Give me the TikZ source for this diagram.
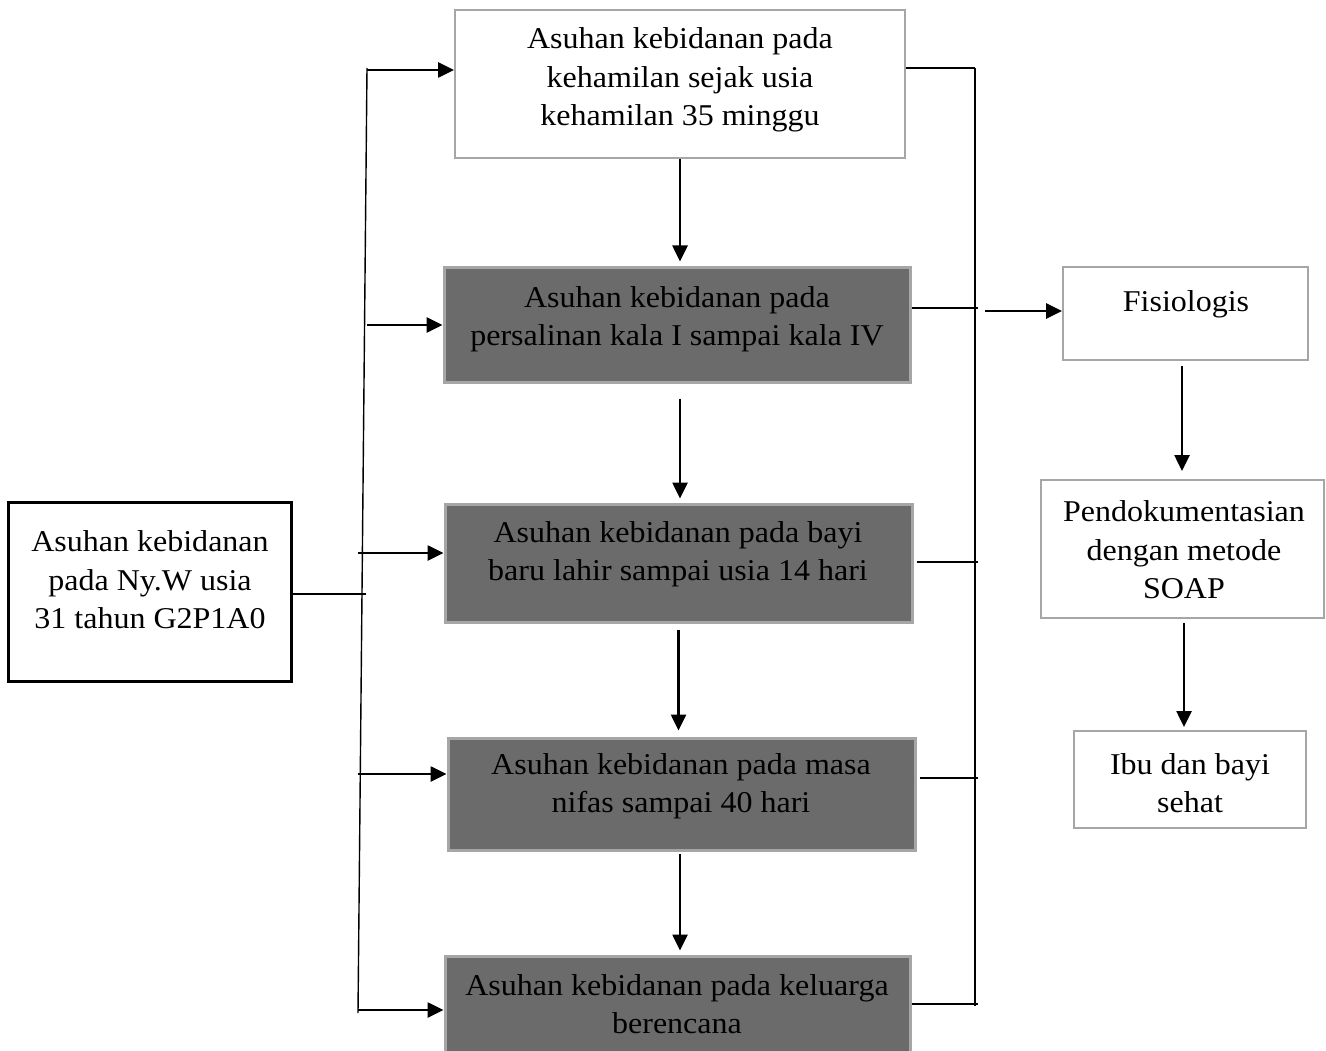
\documentclass[tikz,border=0pt]{standalone}
\usepackage{fontspec}
\setmainfont[FakeStretch=1.06]{Liberation Serif}
\usetikzlibrary{arrows.meta,calc}
\definecolor{boxgray}{HTML}{A6A6A6}
\definecolor{darkfill}{HTML}{6B6B6B}
\begin{document}
\begin{tikzpicture}[x=1pt,y=-1pt,
  wbox/.style={draw=boxgray, line width=2pt, fill=white, rectangle, inner sep=0pt},
  dbox/.style={draw=boxgray, line width=3pt, fill=darkfill, rectangle, inner sep=0pt},
  lbox/.style={draw=black, line width=3pt, fill=white, rectangle, inner sep=0pt},
  txt/.style={align=center, font=\fontsize{30.2}{38.5}\selectfont, inner sep=0pt},
  ln/.style={line width=1.4pt},
  arr/.style={line width=2.6pt, -{Triangle[length=16pt,width=15pt]}}]
\clip (0,0) rectangle (1326,1051);
\fill[white] (0,0) rectangle (1326,1051);
% boxes
\node[wbox, minimum width=450pt, minimum height=148pt] (b1) at (680,84) {};
\node[dbox, minimum width=466pt, minimum height=114pt] (b2) at (677,325) {};
\node[dbox, minimum width=467pt, minimum height=118pt] (b3) at (678.5,563) {};
\node[dbox, minimum width=467pt, minimum height=112pt] (b4) at (681.5,794) {};
\node[dbox, minimum width=465pt, minimum height=114pt] (b5) at (677.5,1013) {};
\node[lbox, minimum width=283pt, minimum height=179pt] (L) at (149.5,591.5) {};
\node[wbox, minimum width=245pt, minimum height=93pt] (F) at (1185.5,313.5) {};
\node[wbox, minimum width=283pt, minimum height=138pt] (P) at (1182.5,549) {};
\node[wbox, minimum width=232pt, minimum height=97pt] (I) at (1190,779.5) {};
% texts
\node[txt] (t1) at (680,80) {Asuhan kebidanan pada\\kehamilan sejak usia\\kehamilan 35 minggu};
\node[txt] (t2) at (677,319) {Asuhan kebidanan pada\\persalinan kala I sampai kala IV};
\node[txt] (t3) at (678,554) {Asuhan kebidanan pada bayi\\baru lahir sampai usia 14 hari};
\node[txt] (t4) at (681,786) {Asuhan kebidanan pada masa\\nifas sampai 40 hari};
\node[txt] (t5) at (677,1004) {Asuhan kebidanan pada keluarga\\berencana};
\node[txt] (tL) at (150,580) {Asuhan kebidanan\\pada Ny.W usia\\31 tahun G2P1A0};
\node[txt] (tF) at (1186,304) {Fisiologis};
\node[txt] (tP) at (1184,550) {Pendokumentasian\\dengan metode\\SOAP};
\node[txt] (tI) at (1190,783) {Ibu dan bayi\\sehat};
% left bus
\coordinate (a1) at (367,70);
\coordinate (a2) at (367,325);
\coordinate (a3) at (358,553);
\coordinate (a4) at (358,774);
\coordinate (a5) at (358,1010);
\coordinate (jL) at (366,594);
\draw[ln] (367,68) coordinate (lt) -- (358,1013) coordinate (lb);
\draw[ln] (L.east |- jL) -- (jL);
\draw[arr] (a1) -- (b1.west |- a1);
\draw[arr] (a2) -- (b2.west |- a2);
\draw[arr] (a3) -- (b3.west |- a3);
\draw[arr] (a4) -- (b4.west |- a4);
\draw[arr] (a5) -- (b5.west |- a5);
% right bus
\coordinate (r1) at (975,68);
\coordinate (r2) at (978,308);
\coordinate (r3) at (978,562);
\coordinate (r4) at (978,778);
\coordinate (r5) at (978,1004);
\draw[ln] (r1) -- (975,1006);
\draw[ln] (b1.east |- r1) -- (r1);
\draw[ln] (b2.east |- r2) -- (r2);
\draw[ln, shorten <=3pt] (b3.east |- r3) -- (r3);
\draw[ln, shorten <=3pt] (b4.east |- r4) -- (r4);
\draw[ln] (b5.east |- r5) -- (r5);
\coordinate (fa) at (985,311);
\draw[arr] (fa) -- (F.west |- fa);
% vertical arrows
\draw[arr, shorten >=5pt] (b1.south) -- (b1.south |- b2.north);
\draw[arr, shorten <=15pt, shorten >=4pt] ($(b2.south)+(3,0)$) -- ($(b2.south |- b3.north)+(3,0)$);
\draw[arr, shorten <=6pt, shorten >=6pt] (b3.south) -- (b3.south |- b4.north);
\draw[arr, shorten <=2pt, shorten >=4pt] ($(b4.south)+(-1.5,0)$) -- ($(b4.south |- b5.north)+(-1.5,0)$);
\draw[arr, shorten <=5pt, shorten >=8pt] ($(F.south)+(-3.5,0)$) -- ($(F.south |- P.north)+(-3.5,0)$);
\draw[arr, shorten <=4pt, shorten >=3pt] ($(P.south)+(1.5,0)$) -- ($(P.south |- I.north)+(1.5,0)$);
\end{tikzpicture}
\end{document}
